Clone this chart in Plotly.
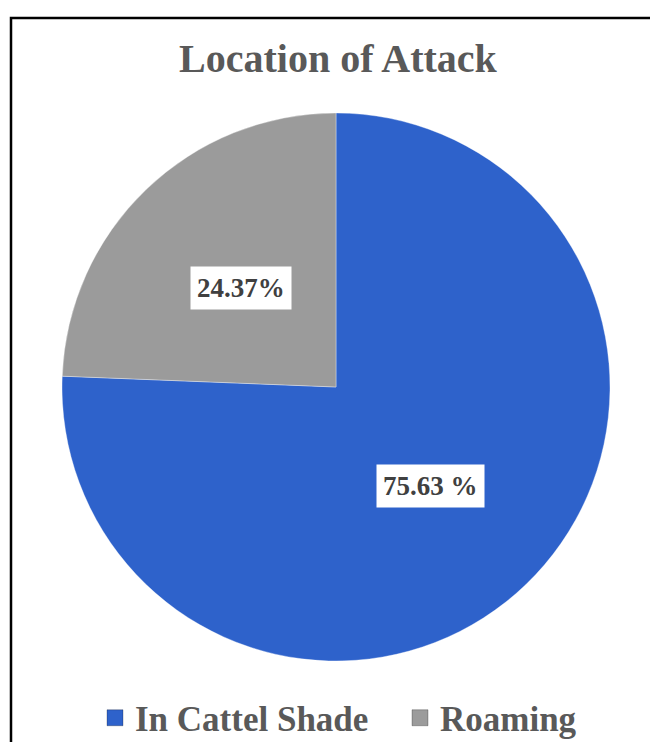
import math
import plotly.graph_objects as go

categories = ["In Cattel Shade", "Roaming"]
values = [75.63, 24.37]
slice_labels = ["75.63 %", "24.37%"]
colors = ["#2E62CB", "#9B9B9B"]

W, H = 650, 742
cx, cy_top = 336, 387          # pie centre in pixels (from top)
R = 274                         # pie radius in pixels
cy = H - cy_top

serif = "Liberation Serif, Times New Roman, serif"

fig = go.Figure()
fig.add_trace(go.Pie(
    labels=categories,
    values=values,
    sort=False,
    direction="clockwise",
    rotation=0,
    textinfo="none",
    hoverinfo="label+percent",
    showlegend=False,
    marker=dict(colors=colors, line=dict(color="rgba(255,255,255,0.35)", width=1)),
    domain=dict(x=[(cx - R) / W, (cx + R) / W], y=[(cy - R) / H, (cy + R) / H]),
))

# legend entries with larger square swatches, one legend box per entry
legend_ids = ["legend", "legend2"]
for c, col, lg in zip(categories, colors, legend_ids):
    fig.add_trace(go.Scatter(
        x=[None], y=[None], mode="markers", name="<b>" + c + "</b>",
        marker=dict(symbol="square", size=16, color=col,
                    line=dict(color="rgba(0,0,0,0.25)", width=1)),
        showlegend=True, hoverinfo="skip", legend=lg,
    ))

# label boxes placed at half radius along each slice's mid-angle
total = sum(values)
cum = 0.0
for v, lab in zip(values, slice_labels):
    mid = (cum + v / 2) / total * 2 * math.pi
    cum += v
    px = cx + 0.5 * R * math.sin(mid)
    py = cy + 0.5 * R * math.cos(mid)
    fig.add_annotation(
        x=px / W, y=py / H, xref="paper", yref="paper",
        text="<b>" + lab + "</b>", showarrow=False,
        font=dict(family=serif, size=27, color="#404040"),
        bgcolor="white", borderpad=6,
    )

# outer frame
fig.add_shape(type="rect", xref="paper", yref="paper",
              x0=11 / W, x1=1.02, y0=-0.02, y1=1 - 18 / H,
              line=dict(color="black", width=2.5))

legend_style = dict(orientation="h", xanchor="left", yanchor="middle",
                    font=dict(family=serif, size=35, color="#595959"),
                    itemclick=False, bgcolor="rgba(0,0,0,0)", itemwidth=30)

fig.update_layout(
    width=W, height=H,
    margin=dict(l=0, r=0, t=0, b=0, autoexpand=False),
    paper_bgcolor="white", plot_bgcolor="white",
    xaxis=dict(visible=False), yaxis=dict(visible=False),
    title=dict(text="<b>Location of Attack</b>", x=338 / W, y=1 - 58 / H,
               xanchor="center", yanchor="middle",
               font=dict(family=serif, size=40, color="#595959")),
    showlegend=True,
    legend=dict(x=95 / W, y=24 / H, **legend_style),
    legend2=dict(x=400 / W, y=24 / H, **legend_style),
)

fig.write_html("out.html", config={"displayModeBar": False})

# remove the browser's default body margin so the figure sits at (0,0)
with open("out.html", "r", encoding="utf-8") as f:
    html = f.read()
html = html.replace("<body>", '<body style="margin:0;padding:0;">', 1)
with open("out.html", "w", encoding="utf-8") as f:
    f.write(html)
